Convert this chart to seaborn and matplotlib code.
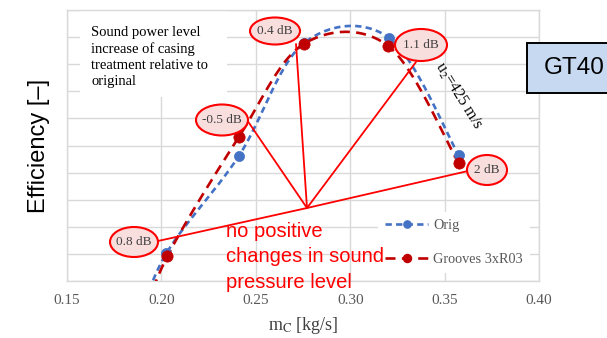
import numpy as np
import pandas as pd
import matplotlib
matplotlib.use("Agg")
import matplotlib.pyplot as plt
from matplotlib.patches import Ellipse, Rectangle
from matplotlib.lines import Line2D
import seaborn as sns

# Operating points (mass flow in kg/s, efficiency); the first point of each
# series lies below the plotted efficiency window.
mass_flow_orig = [0.1862, 0.2027, 0.2410, 0.2755, 0.3207, 0.3574]
eff_orig = [0.7219, 0.7503, 0.7861, 0.8278, 0.8297, 0.7865]
mass_flow_grooves = [0.1872, 0.2032, 0.2410, 0.2755, 0.3202, 0.3574]
eff_grooves = [0.7200, 0.7492, 0.7931, 0.8275, 0.8267, 0.7835]

series_names = ["Orig", "Grooves 3xR03"]
series_colors = ["#4472C4", "#C00000"]

# Sound power level change labels
db_labels = ["0.4 dB", "1.1 dB", "-0.5 dB", "2 dB", "0.8 dB"]

x_ticks = [0.15, 0.20, 0.25, 0.30, 0.35, 0.40]
y_grid = np.round(np.arange(0.74, 0.8401, 0.01), 2)

W, H = 607, 338


def smooth(xs, ys, n=60):
    """Cubic Bezier smoothing through the points (spreadsheet-style)."""
    P = np.column_stack([xs, ys]).astype(float)
    P = np.vstack([P[0], P, P[-1]])
    t = np.linspace(0, 1, n)[:, None]
    out = []
    for i in range(1, len(P) - 2):
        p0, p1, p2, p3 = P[i - 1], P[i], P[i + 1], P[i + 2]
        c1 = p1 + (p2 - p0) / 6
        c2 = p2 - (p3 - p1) / 6
        seg = ((1 - t) ** 3) * p1 + 3 * ((1 - t) ** 2) * t * c1 \
            + 3 * (1 - t) * t ** 2 * c2 + t ** 3 * p2
        out.append(seg)
    return np.vstack(out)


def fx(px):
    return px / W


def fy(py):
    return 1 - py / H


sns.set_theme(style="white")
plt.rcParams["font.family"] = ["Liberation Serif", "DejaVu Serif"]
plt.rcParams["mathtext.fontset"] = "stix"

fig = plt.figure(figsize=(W / 100, H / 100), dpi=100)
ax = fig.add_axes([fx(67), fy(281), fx(539) - fx(67), fy(10) - fy(281)])

dash_styles = [(2.4, 1.6), (3.8, 2.4)]
marker_sizes = [5.2, 5.8]
curves = [(mass_flow_orig, eff_orig), (mass_flow_grooves, eff_grooves)]

for (mx, ey), name, col, ds, ms in zip(curves, series_names, series_colors,
                                       dash_styles, marker_sizes):
    sm = smooth(mx, ey)
    df_line = pd.DataFrame({"m": sm[:, 0], "eff": sm[:, 1]})
    sns.lineplot(data=df_line, x="m", y="eff", ax=ax, color=col, lw=1.9,
                 sort=False, estimator=None, dashes=False, zorder=3)
    ax.lines[-1].set_dashes(ds)
    df_pts = pd.DataFrame({"m": mx, "eff": ey})
    sns.scatterplot(data=df_pts, x="m", y="eff", ax=ax, color=col,
                    s=(ms * 1.4) ** 2, edgecolor=col, linewidth=0.5,
                    zorder=4)

ax.set_xlim(0.15, 0.40)
ax.set_ylim(0.74, 0.84)
ax.set_xticks(x_ticks)
ax.set_xticklabels([f"{v:.2f}" for v in x_ticks])
ax.set_yticks(y_grid)
ax.set_yticklabels([])
ax.grid(True, color="#D9D9D9", lw=1.0)
ax.set_axisbelow(True)
for sp in ax.spines.values():
    sp.set_color("#D9D9D9")
    sp.set_linewidth(1.0)
ax.tick_params(axis="both", length=0)
ax.tick_params(axis="x", pad=9, labelsize=11, labelcolor="#595959")

ax.set_xlabel(r"m$_\mathrm{C}$ [kg/s]", fontsize=13, color="#404040",
              labelpad=6)
ax.set_ylabel("Efficiency [\u2013]", fontsize=17, family="Liberation Sans",
              color="black")
ax.yaxis.set_label_coords(-0.036, 0.5)

# Legend
handles = [Line2D([], [], color=c, lw=1.9, dashes=d, marker="o",
                  markersize=m, markeredgecolor=c)
           for c, d, m in zip(series_colors, dash_styles, marker_sizes)]
leg = ax.legend(handles, series_names, loc="upper left",
                bbox_to_anchor=(fx(371), fy(205)),
                bbox_transform=fig.transFigure, frameon=True,
                facecolor="white", edgecolor="none", framealpha=1,
                fontsize=10.3, handlelength=3.0, labelspacing=1.45,
                handletextpad=0.35, borderpad=0.5)
for t in leg.get_texts():
    t.set_color("#595959")
leg.set_zorder(5)

ft = fig.transFigure

# Description box
ax.add_patch(Rectangle((fx(80), fy(97)), fx(227) - fx(80), fy(11) - fy(97),
                       transform=ft, facecolor="white", edgecolor="none",
                       zorder=2, clip_on=False))
ax.text(fx(91), fy(26), "Sound power level\nincrease of casing\n"
        "treatment relative to\noriginal", transform=ft, fontsize=10.5,
        va="top", ha="left", linespacing=1.3, color="black", zorder=6)

# Tip speed label
ax.text(fx(458), fy(96), r"u$_2$=425 m/s", transform=ft, fontsize=11.5,
        rotation=-58, ha="center", va="center", rotation_mode="anchor",
        color="black", zorder=6)

# Red connector lines from the common hub
hub = (307, 208)
ends = [(296, 44), (416, 62), (247, 120), (468, 171), (158, 241)]
for ex, ey_ in ends:
    ax.add_line(Line2D([fx(hub[0]), fx(ex)], [fy(hub[1]), fy(ey_)],
                       transform=ft, color="#FF0000", lw=1.3, zorder=6,
                       clip_on=False))

# Labelled ellipses
ellipses = [(275, 31, 50, 27), (421, 45, 52, 32), (222, 120, 52, 31),
            (487, 170, 40, 30), (134, 242, 48, 30)]
for (cx, cy, ew, eh), lab in zip(ellipses, db_labels):
    ax.add_patch(Ellipse((fx(cx), fy(cy)), ew / W, eh / H, transform=ft,
                         facecolor="#F9DEDE", edgecolor="#FF0000", lw=1.5,
                         zorder=7, clip_on=False))
    ax.text(fx(cx), fy(cy), lab, transform=ft, fontsize=9.5, ha="center",
            va="center", color="#404040", zorder=8)

# Statement in red
ax.text(fx(226), fy(222), "no positive\nchanges in sound\npressure level",
        transform=ft, fontsize=14.5, family="Liberation Sans",
        color="#FF0000", ha="left", va="top", linespacing=1.42, zorder=9)

# GT40 tag at the right edge
fig.patches.append(Rectangle((fx(527), fy(93)), fx(640) - fx(527),
                             fy(43) - fy(93), transform=ft,
                             facecolor="#C6D9F1", edgecolor="black",
                             lw=1.4, zorder=3))
fig.text(fx(544), fy(68), "GT40", fontsize=17.5, family="Liberation Sans",
         ha="left", va="center", color="black")

fig.savefig("out.png", dpi=100)
